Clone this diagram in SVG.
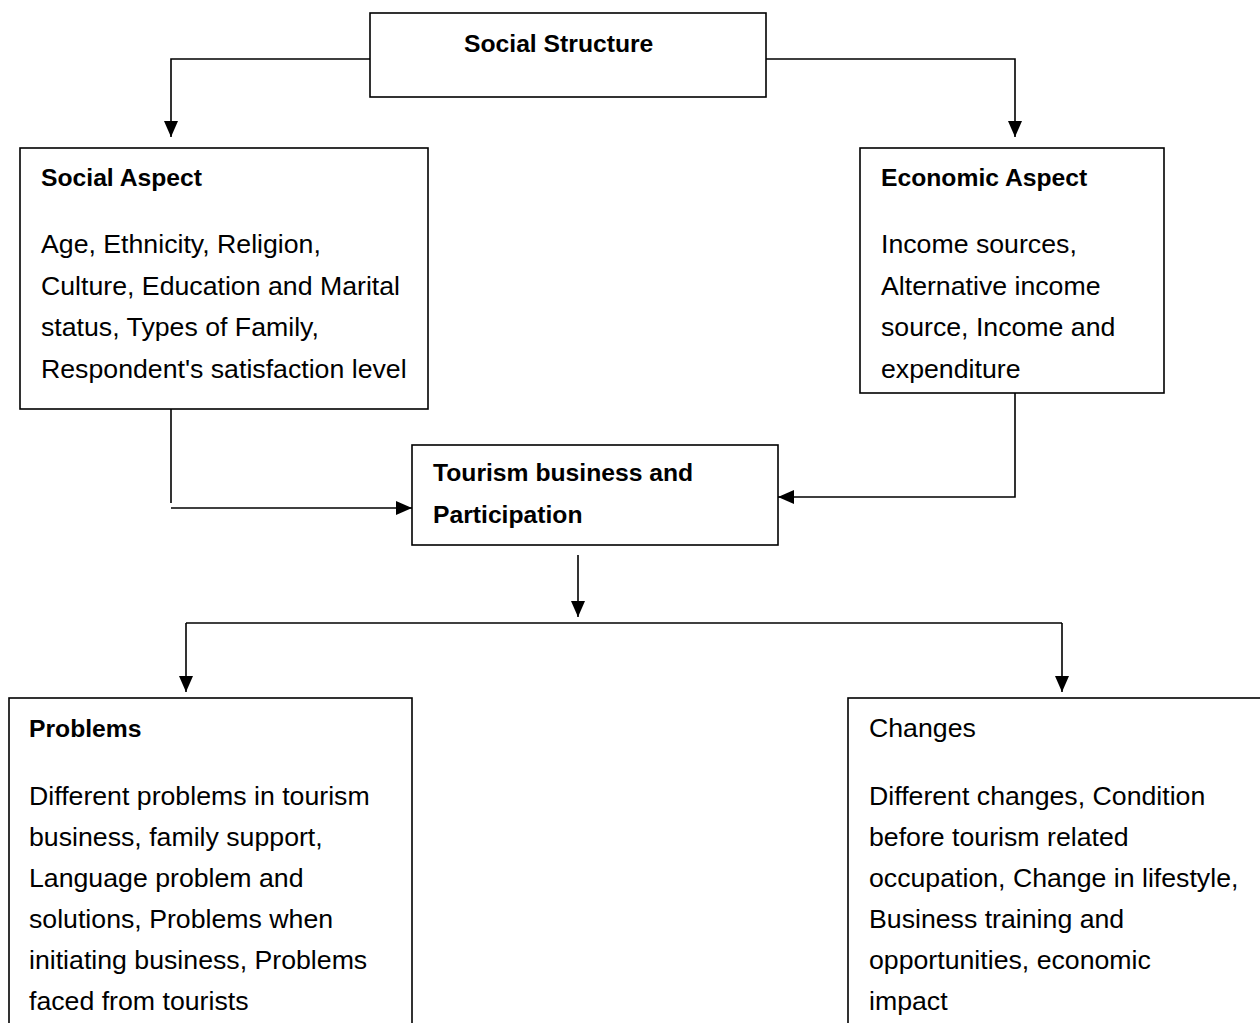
<svg xmlns="http://www.w3.org/2000/svg" width="1260" height="1023" viewBox="0 0 1260 1023">
<defs>
<marker id="ah" markerWidth="16" markerHeight="14" refX="16" refY="7" orient="auto" markerUnits="userSpaceOnUse">
<path d="M0,0 L16,7 L0,14 z" fill="#000"/>
</marker>
<style>
.box{fill:#fff;stroke:#000;stroke-width:1.6}
.c{fill:none;stroke:#000;stroke-width:1.6}
text{font-family:"Liberation Sans",Arial,sans-serif;font-size:26.7px;fill:#000}
.b{font-weight:bold;font-size:24.7px}
</style>
</defs>
<rect width="1260" height="1023" fill="#fff"/>
<g id="connectors">
<path class="c" d="M370,59 H171 V137" marker-end="url(#ah)"/>
<path class="c" d="M766,59 H1015 V137" marker-end="url(#ah)"/>
<path class="c" d="M171,409 V503"/>
<path class="c" d="M171,508 H412" marker-end="url(#ah)"/>
<path class="c" d="M1015,393 V497 H778" marker-end="url(#ah)"/>
<path class="c" d="M578,555 V617" marker-end="url(#ah)"/>
<path class="c" d="M186,623 H1062"/>
<path class="c" d="M186,623 V692" marker-end="url(#ah)"/>
<path class="c" d="M1062,623 V692" marker-end="url(#ah)"/>
</g>
<g id="social-structure">
<rect class="box" x="370" y="13" width="396" height="84"/>
<text class="b" x="464" y="52">Social Structure</text>
</g>
<g id="social-aspect">
<rect class="box" x="20" y="148" width="408" height="261"/>
<text class="b" x="41" y="186">Social Aspect</text>
<text x="41" y="253">Age, Ethnicity, Religion,</text>
<text x="41" y="295">Culture, Education and Marital</text>
<text x="41" y="336">status, Types of Family,</text>
<text x="41" y="378">Respondent's satisfaction level</text>
</g>
<g id="economic-aspect">
<rect class="box" x="860" y="148" width="304" height="245"/>
<text class="b" x="881" y="186">Economic Aspect</text>
<text x="881" y="253">Income sources,</text>
<text x="881" y="295">Alternative income</text>
<text x="881" y="336">source, Income and</text>
<text x="881" y="378">expenditure</text>
</g>
<g id="tourism">
<rect class="box" x="412" y="445" width="366" height="100"/>
<text class="b" x="433" y="481">Tourism business and</text>
<text class="b" x="433" y="523">Participation</text>
</g>
<g id="problems">
<rect class="box" x="9" y="698" width="403" height="360"/>
<text class="b" x="29" y="737">Problems</text>
<text x="29" y="805">Different problems in tourism</text>
<text x="29" y="846">business, family support,</text>
<text x="29" y="887">Language problem and</text>
<text x="29" y="928">solutions, Problems when</text>
<text x="29" y="969">initiating business, Problems</text>
<text x="29" y="1010">faced from tourists</text>
</g>
<g id="changes">
<rect class="box" x="848" y="698" width="430" height="360"/>
<text x="869" y="737">Changes</text>
<text x="869" y="805">Different changes, Condition</text>
<text x="869" y="846">before tourism related</text>
<text x="869" y="887">occupation, Change in lifestyle,</text>
<text x="869" y="928">Business training and</text>
<text x="869" y="969">opportunities, economic</text>
<text x="869" y="1010">impact</text>
</g>
</svg>
